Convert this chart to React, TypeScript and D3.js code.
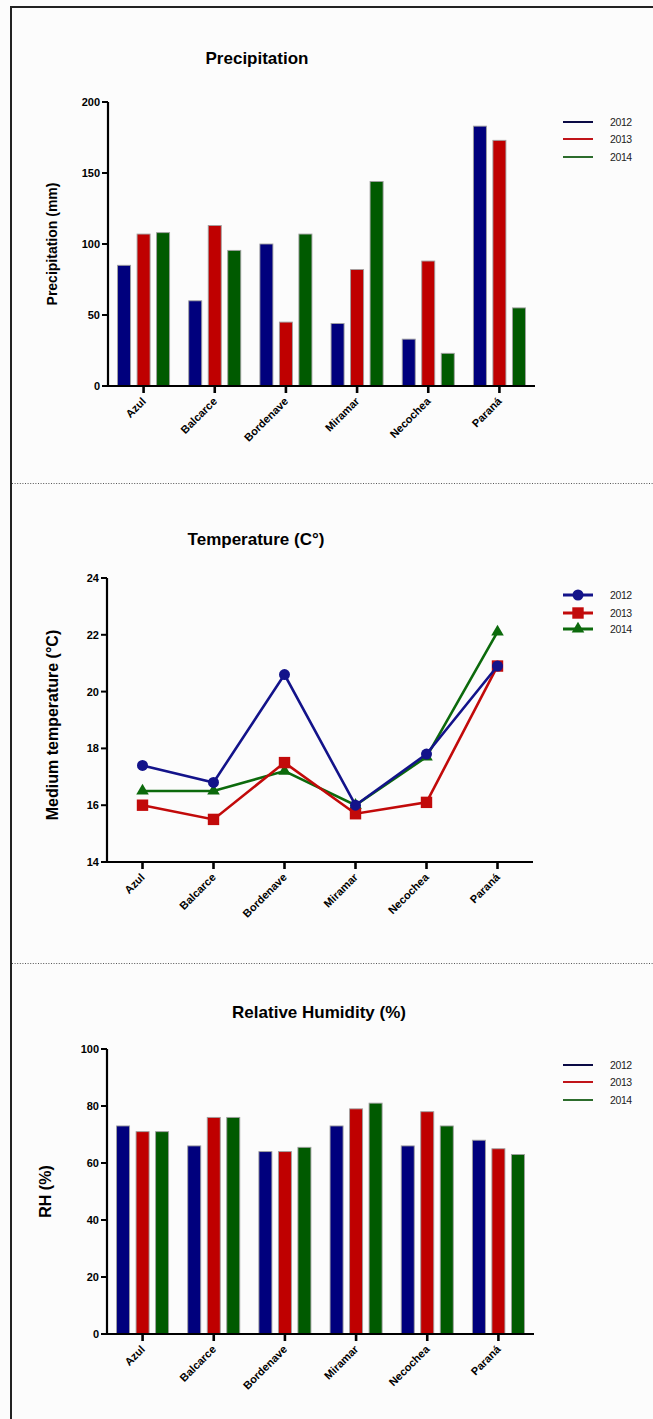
import React from 'react';
import * as d3 from 'd3';

const sites = ['Azul', 'Balcarce', 'Bordenave', 'Miramar', 'Necochea', 'Paraná'];
const years = ['2012', '2013', '2014'];

const precip2012 = [85, 60, 100, 44, 33, 183];
const precip2013 = [107, 113, 45, 82, 88, 173];
const precip2014 = [108, 95.5, 107, 144, 23, 55];

const temp2012 = [17.4, 16.8, 20.6, 16.0, 17.8, 20.9];
const temp2013 = [16.0, 15.5, 17.5, 15.7, 16.1, 20.9];
const temp2014 = [16.5, 16.5, 17.2, 16.0, 17.7, 22.1];

const rh2012 = [73, 66, 64, 73, 66, 68];
const rh2013 = [71, 76, 64, 79, 78, 65];
const rh2014 = [71, 76, 65.5, 81, 73, 63];

const precipTicks = [0, 50, 100, 150, 200];
const tempTicks = [14, 16, 18, 20, 22, 24];
const rhTicks = [0, 20, 40, 60, 80, 100];

const barColors = ['#00007d', '#bf0000', '#005a00'];
const legendLineColors = ['#0a0a45', '#c01419', '#2c6c2c'];
const lineColors = ['#13138a', '#c20a0a', '#0c6a0c'];

const FONT = "'Liberation Sans', Arial, Helvetica, sans-serif";

interface Frame {
  top: number;
  bottom: number;
  left: number;
  right: number;
}

const Axes: React.FC<{
  frame: Frame;
  y: d3.ScaleLinear<number, number>;
  x: d3.ScaleBand<string>;
  ticks: number[];
}> = ({ frame, y, x, ticks }) => (
  <g>
    <line x1={frame.left} x2={frame.left} y1={frame.top} y2={frame.bottom + 1} stroke="#000" strokeWidth={2.2} />
    <line x1={frame.left - 1} x2={frame.right} y1={frame.bottom} y2={frame.bottom} stroke="#000" strokeWidth={2.2} />
    {ticks.map(t => (
      <g key={t}>
        <line x1={frame.left - 6} x2={frame.left} y1={y(t)} y2={y(t)} stroke="#000" strokeWidth={2} />
        <text x={frame.left - 8} y={y(t)} dy="0.36em" textAnchor="end" fontSize={11} fontWeight="bold" fontFamily={FONT}>
          {t}
        </text>
      </g>
    ))}
    {sites.map(s => {
      const cx = (x(s) || 0) + x.bandwidth() / 2;
      return (
        <g key={s}>
          <line x1={cx} x2={cx} y1={frame.bottom} y2={frame.bottom + 7} stroke="#000" strokeWidth={2.6} />
          <text
            transform={`translate(${cx + 3},${frame.bottom + 16}) rotate(-45)`}
            textAnchor="end"
            fontSize={11}
            fontWeight="bold"
            fontFamily={FONT}
          >
            {s}
          </text>
        </g>
      );
    })}
  </g>
);

const Marker: React.FC<{ kind: number; cx: number; cy: number; color: string }> = ({ kind, cx, cy, color }) => {
  if (kind === 0) return <circle cx={cx} cy={cy} r={5.5} fill={color} />;
  if (kind === 1) return <rect x={cx - 5.7} y={cy - 5.7} width={11.4} height={11.4} fill={color} />;
  const sym = d3.symbol().type(d3.symbolTriangle).size(68)();
  return <path d={sym || ''} transform={`translate(${cx},${cy})`} fill={color} />;
};

const LineLegend: React.FC<{ x: number; ys: number[]; markers?: boolean; colors: string[] }> = ({ x, ys, markers, colors }) => (
  <g>
    {years.map((yr, i) => (
      <g key={yr}>
        <line x1={x} x2={x + 30} y1={ys[i]} y2={ys[i]} stroke={colors[i]} strokeWidth={markers ? 3 : 2} />
        {markers && <Marker kind={i} cx={x + 15} cy={ys[i]} color={colors[i]} />}
        <text x={x + 47} y={ys[i]} dy="0.36em" fontSize={10.5} fontFamily={FONT} fill="#222" letterSpacing={-0.4}>
          {yr}
        </text>
      </g>
    ))}
  </g>
);

const BarPanel: React.FC<{
  frame: Frame;
  domain: [number, number];
  ticks: number[];
  series: number[][];
  title: string;
  titleX: number;
  titleY: number;
  yLabel: string;
  yLabelX: number;
  yLabelSize: number;
  legendYs: number[];
}> = ({ frame, domain, ticks, series, title, titleX, titleY, yLabel, yLabelX, yLabelSize, legendYs }) => {
  const x = d3.scaleBand<string>().domain(sites).range([frame.left, frame.right]).padding(0);
  const x1 = d3.scaleBand<string>().domain(years).range([0, x.bandwidth()]).paddingInner(0.333).paddingOuter(0.49);
  const y = d3.scaleLinear().domain(domain).range([frame.bottom, frame.top]);
  const midY = (frame.top + frame.bottom) / 2;
  return (
    <g>
      <text x={titleX} y={titleY} textAnchor="middle" fontSize={17} fontWeight="bold" fontFamily={FONT}>
        {title}
      </text>
      <text
        transform={`translate(${yLabelX},${midY}) rotate(-90)`}
        textAnchor="middle"
        dy="0.36em"
        fontSize={yLabelSize}
        fontWeight="bold"
        fontFamily={FONT}
      >
        {yLabel}
      </text>
      {series.map((vals, si) =>
        vals.map((v, i) => (
          <rect
            key={`${si}-${i}`}
            x={(x(sites[i]) || 0) + (x1(years[si]) || 0)}
            y={y(v)}
            width={x1.bandwidth()}
            height={frame.bottom - y(v)}
            fill={barColors[si]}
            stroke="#a0a0a0"
            strokeWidth={0.9}
          />
        ))
      )}
      <Axes frame={frame} y={y} x={x} ticks={ticks} />
      <LineLegend x={563} ys={legendYs} colors={legendLineColors} />
    </g>
  );
};

const LinePanel: React.FC<{ frame: Frame }> = ({ frame }) => {
  const x = d3.scaleBand<string>().domain(sites).range([frame.left, frame.right]).padding(0);
  const y = d3.scaleLinear().domain([14, 24]).range([frame.bottom, frame.top]);
  const cx = (s: string) => (x(s) || 0) + x.bandwidth() / 2;
  const series = [temp2012, temp2013, temp2014];
  const line = d3
    .line<number>()
    .x((_, i) => cx(sites[i]))
    .y(v => y(v));
  const order = [2, 1, 0];
  const midY = (frame.top + frame.bottom) / 2;
  return (
    <g>
      <text x={256} y={545} textAnchor="middle" fontSize={17} fontWeight="bold" fontFamily={FONT}>
        Temperature (C°)
      </text>
      <text
        transform={`translate(52,${midY + 5}) rotate(-90)`}
        textAnchor="middle"
        dy="0.36em"
        fontSize={16}
        fontWeight="bold"
        fontFamily={FONT}
      >
        Medium temperature (°C)
      </text>
      <Axes frame={frame} y={y} x={x} ticks={tempTicks} />
      {order.map(si => (
        <g key={si}>
          <path d={line(series[si]) || ''} fill="none" stroke={lineColors[si]} strokeWidth={2.6} />
          {series[si].map((v, i) => (
            <Marker key={i} kind={si} cx={cx(sites[i])} cy={y(v)} color={lineColors[si]} />
          ))}
        </g>
      ))}
      <LineLegend x={563} ys={[595, 613, 629]} markers colors={lineColors} />
    </g>
  );
};

const App: React.FC = () => {
  return (
    <div style={{ position: 'absolute', left: 0, top: 0 }}>
      <svg width={653} height={1419} viewBox="0 0 653 1419" style={{ display: 'block' }}>
        <rect x={0} y={0} width={653} height={1419} fill="#fcfcfc" />
        <line x1={11} x2={11} y1={6} y2={1419} stroke="#222" strokeWidth={2} />
        <line x1={10} x2={653} y1={7} y2={7} stroke="#222" strokeWidth={2} />
        <line x1={12} x2={653} y1={483.5} y2={483.5} stroke="#555" strokeWidth={1} strokeDasharray="1,1.6" />
        <line x1={12} x2={653} y1={963.5} y2={963.5} stroke="#555" strokeWidth={1} strokeDasharray="1,1.6" />

        <BarPanel
          frame={{ top: 102, bottom: 386, left: 108, right: 535 }}
          domain={[0, 200]}
          ticks={precipTicks}
          series={[precip2012, precip2013, precip2014]}
          title="Precipitation"
          titleX={257}
          titleY={64}
          yLabel="Precipitation (mm)"
          yLabelX={52}
          yLabelSize={14}
          legendYs={[122, 139, 157]}
        />

        <LinePanel frame={{ top: 578, bottom: 862, left: 107, right: 533 }} />

        <BarPanel
          frame={{ top: 1049, bottom: 1334, left: 107, right: 534 }}
          domain={[0, 100]}
          ticks={rhTicks}
          series={[rh2012, rh2013, rh2014]}
          title="Relative Humidity (%)"
          titleX={319}
          titleY={1018}
          yLabel="RH (%)"
          yLabelX={45}
          yLabelSize={16}
          legendYs={[1065, 1082, 1100]}
        />
      </svg>
    </div>
  );
};

export default App;
